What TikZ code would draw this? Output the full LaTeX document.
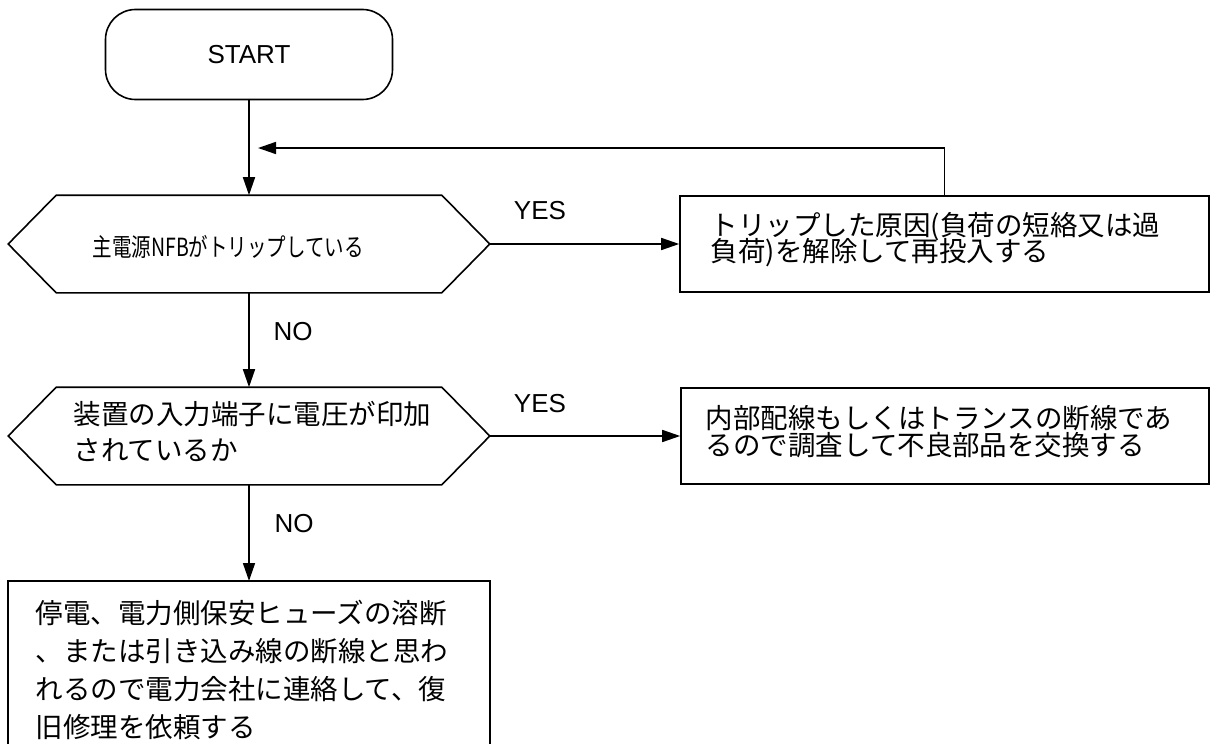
\documentclass[tikz,border=0pt]{standalone}
\usepackage{graphicx}
\usepackage{fontspec}
\setmainfont{Liberation Sans}
\newfontfamily\jp{Noto Sans CJK JP}
\usetikzlibrary{arrows.meta,calc}
\begin{document}
\lineskiplimit=-20pt
\begin{tikzpicture}[x=0.5pt,y=-0.5pt,
  line width=0.8pt,
  >={Triangle[length=9pt,width=6pt]},
  frame/.style={draw,rectangle,inner sep=0pt},
  anch/.style={rectangle,inner sep=0pt,minimum width=240pt,minimum height=48pt},
  jtext/.style={anchor=west,inner sep=0pt,align=left,font=\jp\fontsize{13.75pt}{#1}\selectfont},
  lbl/.style={inner sep=0pt,font=\fontsize{13pt}{13pt}\selectfont},
  hexa/.style={draw}
]
\clip (0,0) rectangle (1212,744);

% start
\node[frame,rounded corners=15pt,minimum width=143.5pt,minimum height=45pt,
      font=\fontsize{13pt}{13pt}\selectfont] (start) at (249,54.5) {START};

% decision 1
\node[anch] (d1) at (249,244) {};
\draw[hexa] ([xshift=24pt]d1.north west) -- ([xshift=-24pt]d1.north east) -- (d1.east)
  -- ([xshift=-24pt]d1.south east) -- ([xshift=24pt]d1.south west) -- (d1.west) -- cycle;
\node[anchor=west,inner sep=0pt] (t1) at (92,247)
  {\scalebox{0.78}[1]{\jp\fontsize{12.5pt}{12.5pt}\selectfont 主電源NFBがトリップしている}};

% box 1
\node[frame,minimum width=264.5pt,minimum height=48pt] (b1) at (944.5,244) {};
\node[jtext=13pt] (t2) at (710,240) {トリップした原因(負荷の短絡又は過\\負荷)を解除して再投入する};

% decision 2
\node[anch] (d2) at (249,436) {};
\draw[hexa] ([xshift=24pt]d2.north west) -- ([xshift=-24pt]d2.north east) -- (d2.east)
  -- ([xshift=-24pt]d2.south east) -- ([xshift=24pt]d2.south west) -- (d2.west) -- cycle;
\node[jtext=18pt] (t3) at (73,431) {装置の入力端子に電圧が印加\\されているか};

% box 2
\node[frame,minimum width=264pt,minimum height=48pt] (b2) at (945,436) {};
\node[jtext=13.5pt] (t4) at (705,431.5) {内部配線もしくはトランスの断線であ\\るので調査して不良部品を交換する};

% box 3 (runs off the bottom)
\node[rectangle,inner sep=0pt,minimum width=240pt,minimum height=100pt,anchor=north] (b3) at (249,581) {};
\draw (b3.south west) |- (b3.north east) -- (b3.south east);
\node[jtext=19pt] (t5) at (35,670) {停電、電力側保安ヒューズの溶断\\、または引き込み線の断線と思わ\\れるので電力会社に連絡して、復\\旧修理を依頼する};

% labels
\node[lbl] (yes1) at (540,211) {YES};
\node[lbl] (yes2) at (540,404) {YES};
\node[lbl] (no1) at (293,332) {NO};
\node[lbl] (no2) at (294,524) {NO};

% connectors
\coordinate (fb) at (258,148);
\draw[->] (start.south) -- (d1.north);
\draw[->] (d1.east) -- (b1.west);
\draw[->] (b1.north) |- (fb);
\draw[->] (d1.south) -- (d2.north);
\draw[->] (d2.east) -- (b2.west);
\draw[->] (d2.south) -- (b3.north);
\end{tikzpicture}
\end{document}
